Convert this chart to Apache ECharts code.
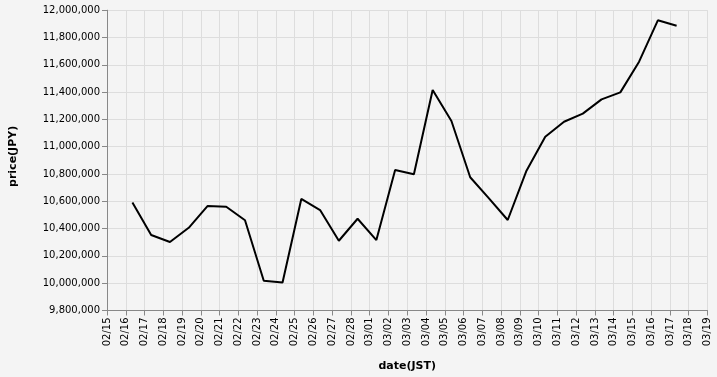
<!DOCTYPE html>
<html>
<head>
<meta charset="utf-8">
<script src="https://cdn.jsdelivr.net/npm/echarts@6/dist/echarts.min.js"></script>
<style>
html,body{margin:0;padding:0;background:#f4f4f4;}
#chart{width:717px;height:377px;}
</style>
</head>
<body>
<div id="chart"></div>
<script>
const dates = [
  '2023-02-16T08:30','2023-02-17T08:30','2023-02-18T08:30','2023-02-19T08:30','2023-02-20T08:30',
  '2023-02-21T08:30','2023-02-22T08:30','2023-02-23T08:30','2023-02-24T08:30','2023-02-25T08:30',
  '2023-02-26T08:30','2023-02-27T08:30','2023-02-28T08:30','2023-03-01T08:30','2023-03-02T08:30',
  '2023-03-03T08:30','2023-03-04T08:30','2023-03-05T08:30','2023-03-06T08:30','2023-03-07T08:30',
  '2023-03-08T08:30','2023-03-09T08:30','2023-03-10T08:30','2023-03-11T08:30','2023-03-12T08:30',
  '2023-03-13T08:30','2023-03-14T08:30','2023-03-15T08:30','2023-03-16T08:30','2023-03-17T08:30'
];
const prices = [
  10592000,10353000,10302000,10406000,10565000,
  10560000,10461000,10018000,10005000,10617000,
  10536000,10311000,10472000,10316000,10829000,
  10798000,11415000,11188000,10776000,10622000,
  10463000,10824000,11073000,11183000,11242000,
  11347000,11398000,11623000,11926000,11886000
];
const xStart = '2023-02-15';
const xEnd = '2023-03-19';
const yMin = 9800000, yMax = 12000000, yStep = 200000;
const xTitle = 'date(JST)';
const yTitle = 'price(JPY)';

function toUTC(s){
  const m = s.match(/(\d+)-(\d+)-(\d+)(?:T(\d+):(\d+))?/);
  return Date.UTC(+m[1], +m[2]-1, +m[3], +(m[4]||0), +(m[5]||0));
}
const DAY = 86400000;
const pad = n => (n<10?'0':'')+n;

const chart = echarts.init(document.getElementById('chart'), null, {renderer:'canvas'});
const font = 'DejaVu Sans';
chart.setOption({
  backgroundColor:'#f4f4f4',
  animation:false,
  grid:{left:107, right:9.5, top:10.2, bottom:66.5, containLabel:false},
  xAxis:{
    type:'value',
    min:toUTC(xStart), max:toUTC(xEnd), interval:DAY,
    name:xTitle, nameLocation:'middle', nameGap:50,
    nameTextStyle:{fontFamily:font, fontSize:11, fontWeight:'bold', color:'#000'},
    axisLine:{show:true, lineStyle:{color:'#888', width:1}},
    axisTick:{show:true, length:5, lineStyle:{color:'#888'}},
    axisLabel:{rotate:90, margin:7, fontFamily:font, fontSize:10, color:'#000',
      formatter:v=>{const d=new Date(v); return pad(d.getUTCMonth()+1)+'/'+pad(d.getUTCDate());}},
    splitLine:{show:true, lineStyle:{color:'#ddd', width:1}}
  },
  yAxis:{
    type:'value',
    min:yMin, max:yMax, interval:yStep,
    name:yTitle, nameLocation:'middle', nameGap:88,
    nameTextStyle:{fontFamily:font, fontSize:11, fontWeight:'bold', color:'#000', padding:[0,0,0,8]},
    axisLine:{show:true, lineStyle:{color:'#888', width:1}},
    axisTick:{show:true, length:5, lineStyle:{color:'#888'}},
    axisLabel:{margin:7, fontFamily:font, fontSize:10, color:'#000',
      formatter:v=>v.toLocaleString('en-US')},
    splitLine:{show:true, lineStyle:{color:'#ddd', width:1}}
  },
  series:[{
    type:'line',
    data:dates.map((d,i)=>[toUTC(d), prices[i]]),
    showSymbol:false,
    lineStyle:{color:'#000', width:2},
    itemStyle:{color:'#000'}
  }]
});
</script>
</body>
</html>
